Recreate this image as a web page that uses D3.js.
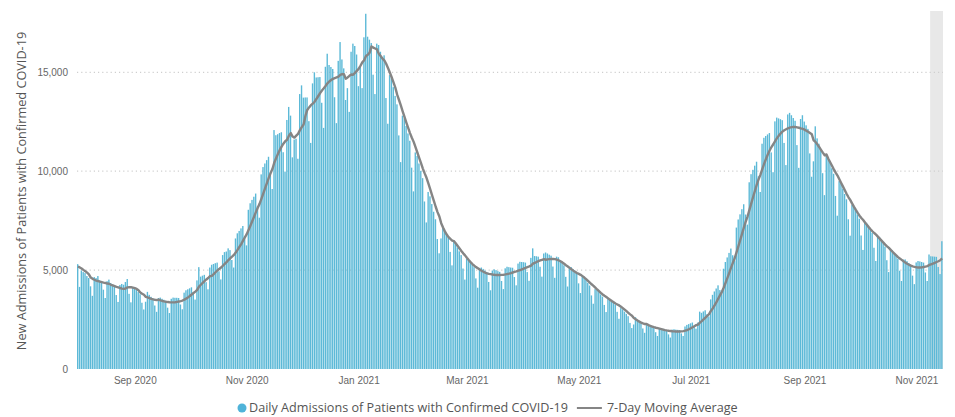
<!DOCTYPE html>
<html>
<head>
<meta charset="utf-8">
<script src="https://cdnjs.cloudflare.com/ajax/libs/d3/7.8.5/d3.min.js"></script>
<style>
  body { margin: 0; background: #fff; }
  svg { display: block; font-family: "Open Sans", sans-serif; }
</style>
</head>
<body>
<svg id="chart" width="955" height="417"></svg>
<script>
// daily admissions, one array per month, starting 1 Aug 2020
const startDate = "2020-08-01";
// last days of July 2020, only used to seed the moving average
const jul2020Tail = [4500, 5350, 5400, 5300, 5250, 5200];
const aug2020 = [5300, 4150, 4980, 4900, 4850, 4700, 4600, 4180, 3700, 4650, 4600, 4700, 4480, 4420,
  4010, 3590, 4440, 4520, 4350, 4270, 4150, 3740, 3390, 4250, 4300, 4260, 4400, 4550, 3800, 3370, 4140];
const sep2020 = [4110, 4000, 3890, 3780, 3350, 3010, 3400, 3900, 3750, 3650, 3580, 3210, 2890, 3590,
  3610, 3550, 3500, 3450, 3100, 2830, 3550, 3610, 3600, 3600, 3590, 3260, 3020, 3860, 3980, 4030];
const oct2020 = [4080, 4130, 3800, 3510, 4480, 5150, 4670, 4720, 4760, 4390, 4030, 5130, 5270, 5310,
  5350, 5380, 4940, 4530, 5760, 5910, 5940, 6100, 6010, 5510, 5130, 6600, 6860, 6980, 7110, 7230, 6700];
const nov2020 = [6250, 8050, 8380, 8550, 8710, 8870, 8230, 7650, 9840, 10210, 10390, 10560, 10730,
  9930, 9100, 12080, 11820, 11870, 11930, 11970, 10960, 9980, 12590, 13250, 12810, 10700, 11600,
  11640, 10630, 13900];
const dec2020 = [14340, 13720, 13730, 13730, 12530, 11430, 14440, 15000, 14740, 14750, 14760, 13460,
  12190, 15280, 15940, 15370, 15270, 15170, 13740, 12430, 15580, 16530, 15650, 15200, 13600, 14200,
  13000, 16040, 16450, 16330, 15900];
const jan2021 = [14300, 15300, 14200, 16770, 17960, 16800, 16650, 16480, 14880, 13900, 16450, 16380,
  16040, 15700, 15860, 13700, 12400, 14860, 14690, 14250, 13810, 13380, 11810, 10460, 12810, 12670,
  12290, 11910, 11540, 10180, 8980];
const feb2021 = [10950, 10770, 10390, 10020, 9650, 8470, 7410, 8950, 8730, 8340, 7950, 7570, 6570,
  5850, 6600, 7170, 7000, 6830, 6660, 5920, 5240, 6420, 6340, 6140, 5950, 5760, 5080, 4520];
const mar2021 = [5570, 5540, 5410, 5280, 5150, 4580, 4110, 5110, 5130, 5060, 4980, 4900, 4400, 3980,
  4980, 5040, 5000, 4950, 4910, 4450, 4040, 5090, 5170, 5150, 5130, 5120, 4650, 4230, 5330, 5420, 5410];
const apr2021 = [5400, 5380, 4900, 4460, 5620, 6100, 5710, 5700, 5680, 5170, 4670, 5840, 5890, 5840,
  5780, 5730, 5180, 4610, 5680, 5650, 5510, 5380, 5240, 4660, 4170, 5160, 5150, 5050, 4950, 4850];
const may2021 = [4330, 3840, 4700, 4640, 4500, 4360, 4220, 3720, 3300, 4040, 4000, 3890, 3770, 3660,
  3240, 2880, 3540, 3520, 3430, 3340, 3250, 2890, 2540, 3080, 3020, 2900, 2790, 2670, 2330, 2070, 2250];
const jun2021 = [2620, 2450, 2380, 2320, 2050, 1830, 2250, 2240, 2190, 2140, 2090, 1860, 1670, 2070,
  2070, 2030, 1990, 1960, 1750, 1590, 1990, 2010, 1990, 1980, 1970, 1800, 1670, 2150, 2230, 2270];
const jul2021 = [2310, 2350, 2170, 2040, 2350, 2900, 2840, 2910, 2970, 2770, 2660, 3520, 3750, 3920,
  4070, 4230, 3990, 3830, 5070, 5410, 5640, 5870, 6090, 5750, 5460, 7150, 7560, 7820, 8080, 8330, 7810];
const aug2021 = [7300, 9440, 9850, 10070, 10280, 10480, 9740, 8950, 11390, 11690, 11780, 11860, 11930,
  10950, 9950, 12520, 12710, 12670, 12630, 12580, 11430, 10310, 12870, 12950, 12830, 12690, 12550,
  11320, 10170, 12640, 12830];
const sep2021 = [12510, 12320, 12140, 10900, 9720, 10500, 12270, 11660, 11390, 11120, 9900, 8790,
  10800, 10720, 10430, 10150, 9870, 8750, 7750, 9500, 9400, 9120, 8850, 8580, 7570, 6740, 8290, 8230,
  8020, 7810];
const oct2021 = [7600, 6750, 6020, 7420, 7390, 7220, 7060, 6890, 6130, 5460, 6720, 6680, 6510, 6350,
  6190, 5500, 4900, 6030, 6010, 5860, 5720, 5580, 4970, 4450, 5530, 5540, 5450, 5360, 5270, 4720, 4290];
const nov2021 = [5390, 5460, 5440, 5410, 5380, 4880, 4450, 5790, 5700, 5690, 5680, 5670, 5160, 4800, 6460];

const months = [aug2020, sep2020, oct2020, nov2020, dec2020, jan2021, feb2021, mar2021, apr2021,
  may2021, jun2021, jul2021, aug2021, sep2021, oct2021, nov2021];

const xTickDates = ["2020-09-01", "2020-11-01", "2021-01-01", "2021-03-01", "2021-05-01",
  "2021-07-01", "2021-09-01", "2021-11-01"];
const yTicks = [0, 5000, 10000, 15000];
const gridTicks = [5000, 10000, 15000];
const yMax = 18100;
// last week is incomplete reporting, shaded grey
const shadeStart = "2021-11-09";
const yTitle = "New Admissions of Patients with Confirmed COVID-19";
const barLabel = "Daily Admissions of Patients with Confirmed COVID-19";
const lineLabel = "7-Day Moving Average";

// shrink or grow a text node's font so it spans roughly the given width
function fitText(sel, size, target) {
  sel.style("font-size", size + "px");
  let len = sel.node().getComputedTextLength();
  sel.style("font-size", (size * target / len).toFixed(2) + "px");
}

class AdmissionsChart {
  constructor(_config) {
    this.config = {
      parentElement: _config.parentElement,
      containerWidth: _config.containerWidth || 955,
      containerHeight: _config.containerHeight || 417
    };
    this.config.margin = _config.margin || { top: 11, bottom: 48, right: 12, left: 77 };
    this.initVis();
  }

  initVis() {
    let vis = this;
    vis.width = vis.config.containerWidth - vis.config.margin.left - vis.config.margin.right;
    vis.height = vis.config.containerHeight - vis.config.margin.top - vis.config.margin.bottom;

    vis.svg = d3.select(vis.config.parentElement);
    vis.chart = vis.svg.append("g")
      .attr("transform", `translate(${vis.config.margin.left}, ${vis.config.margin.top})`);

    let parse = d3.timeParse("%Y-%m-%d");
    let start = parse(startDate);
    vis.data = months.flat().map((v, i) => ({ date: d3.timeDay.offset(start, i), value: v }));
    // trailing 7 day mean, seeded with the end of July
    let all = jul2020Tail.concat(months.flat());
    let off = jul2020Tail.length;
    vis.data.forEach((d, i) => {
      d.avg = d3.mean(all.slice(i + off - 6, i + off + 1));
    });

    let end = d3.timeDay.offset(vis.data[vis.data.length - 1].date, 1);
    vis.xScale = d3.scaleTime().domain([start, end]).range([0, vis.width]);
    vis.yScale = d3.scaleLinear().domain([0, yMax]).range([vis.height, 0]);
    vis.step = vis.xScale(d3.timeDay.offset(start, 1)) - vis.xScale(start);

    vis.xTicks = xTickDates.map(parse);
    vis.shade = parse(shadeStart);
    vis.render();
  }

  render() {
    let vis = this;

    vis.chart.append("rect")
      .attr("x", vis.xScale(vis.shade))
      .attr("y", 0)
      .attr("width", vis.width - vis.xScale(vis.shade))
      .attr("height", vis.height)
      .attr("fill", "#e8e8e8");

    vis.chart.selectAll(".grid")
      .data(gridTicks)
      .enter()
      .append("line")
      .attr("class", "grid")
      .attr("x1", 0)
      .attr("x2", vis.width)
      .attr("y1", d => vis.yScale(d))
      .attr("y2", d => vis.yScale(d))
      .attr("stroke", "#cfcfcf")
      .attr("stroke-width", 1.2)
      .attr("stroke-dasharray", "1.2,3");

    vis.chart.selectAll(".bar")
      .data(vis.data)
      .enter()
      .append("rect")
      .attr("class", "bar")
      .attr("x", d => vis.xScale(d.date))
      .attr("y", d => vis.yScale(d.value))
      .attr("width", vis.step - 0.45)
      .attr("height", d => vis.height - vis.yScale(d.value))
      .attr("fill", "#5cb9d7");

    let line = d3.line()
      .x(d => vis.xScale(d.date) + vis.step / 2)
      .y(d => vis.yScale(d.avg));

    vis.chart.append("path")
      .datum(vis.data)
      .attr("d", line)
      .attr("fill", "none")
      .attr("stroke", "#858585")
      .attr("stroke-width", 2.4)
      .attr("stroke-linejoin", "round");

    let xAxis = vis.chart.append("g")
      .attr("transform", `translate(${vis.step / 2}, ${vis.height})`)
      .call(d3.axisBottom(vis.xScale)
        .tickValues(vis.xTicks)
        .tickFormat(d3.timeFormat("%b %Y"))
        .tickSize(0)
        .tickPadding(8));
    xAxis.select(".domain").remove();
    xAxis.selectAll("text").attr("fill", "#666").style("font-size", "10px");

    let yAxis = vis.chart.append("g")
      .call(d3.axisLeft(vis.yScale)
        .tickValues(yTicks)
        .tickFormat(d3.format(","))
        .tickSize(0)
        .tickPadding(9));
    yAxis.select(".domain").remove();
    yAxis.selectAll("text").attr("fill", "#666").style("font-size", "10px");

    let title = vis.svg.append("text")
      .attr("transform", "translate(26, 191) rotate(-90)")
      .attr("text-anchor", "middle")
      .attr("fill", "#555")
      .text(yTitle);
    fitText(title, 11.7, 318);

    vis.drawLegend();
  }

  drawLegend() {
    let vis = this;
    let legend = vis.svg.append("g").attr("transform", "translate(0, 408)");
    legend.append("circle")
      .attr("cx", 242)
      .attr("cy", 0)
      .attr("r", 4.5)
      .attr("fill", "#4fb3d9");
    let t1 = legend.append("text")
      .attr("x", 249)
      .attr("y", 0)
      .attr("dy", "0.35em")
      .attr("fill", "#555")
      .text(barLabel);
    fitText(t1, 12.5, 319);
    let x1 = 249 + t1.node().getComputedTextLength() + 9;
    legend.append("line")
      .attr("x1", x1)
      .attr("x2", x1 + 25)
      .attr("stroke", "#858585")
      .attr("stroke-width", 2);
    legend.append("text")
      .attr("x", x1 + 30)
      .attr("y", 0)
      .attr("dy", "0.35em")
      .attr("fill", "#555")
      .style("font-size", t1.style("font-size"))
      .text(lineLabel);
  }
}

new AdmissionsChart({ parentElement: "#chart" });
</script>
</body>
</html>
